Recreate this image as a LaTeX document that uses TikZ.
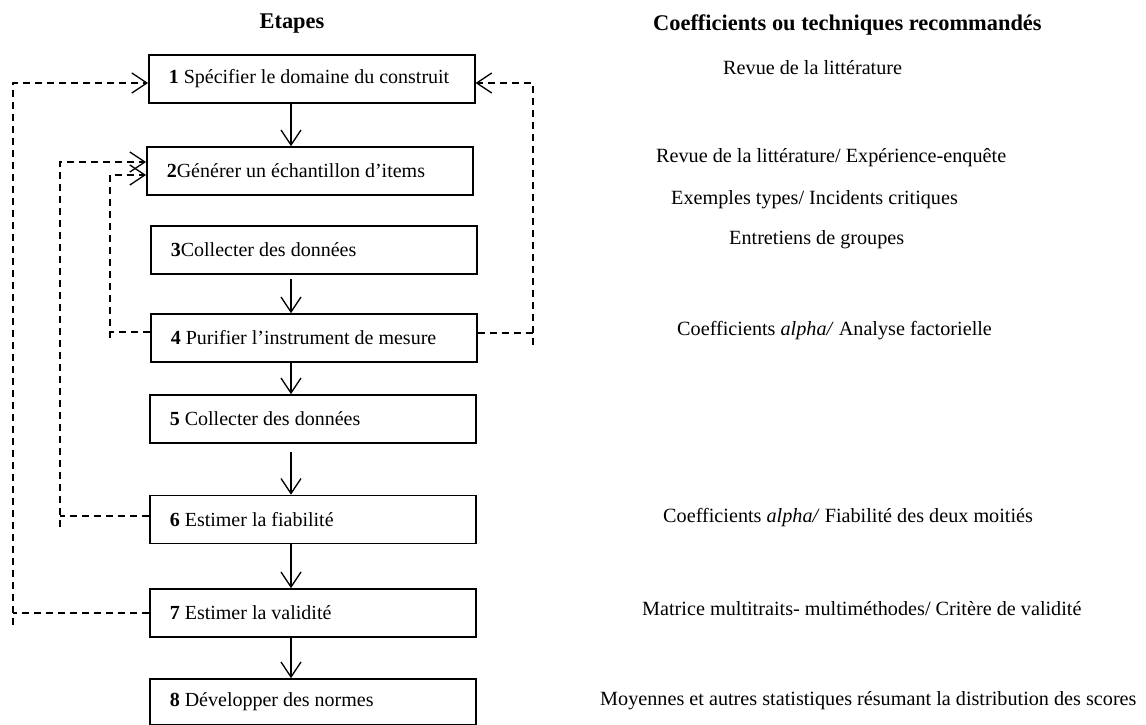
\documentclass[tikz,border=0pt]{standalone}
\usepackage{fontspec}
\setmainfont{Liberation Serif}
\usetikzlibrary{arrows.meta,calc}
\newcommand{\boxline}[1]{\makebox[286pt][l]{#1}}
\begin{document}
\begin{tikzpicture}[x=1pt,y=-1pt,
  stepbox/.style={draw, line width=1.6pt, minimum height=48pt, inner xsep=20pt, inner ysep=0pt, anchor=west, font=\fontsize{20}{24}\selectfont},
  txt/.style={anchor=west, inner sep=0pt, font=\fontsize{20.2}{24}\selectfont},
  head/.style={inner sep=0pt, font=\fontsize{22.4}{26}\selectfont\bfseries},
  arr/.style={line width=1.3pt, -{Straight Barb[length=15pt,width=20pt]}},
  fb/.style={line width=1.3pt, dash pattern=on 7pt off 5pt},
  fbarr/.style={fb, -{Straight Barb[length=15pt,width=20pt]}}]
\useasboundingbox (0,0) rectangle (1146,725);

% headers
\node[head] (h1) at (292,24) {Etapes};
\node[head, anchor=west] (h2) at (653,25) {Coefficients ou techniques recommandés};

% step boxes
\node[stepbox] (b1) at (148,79) {\boxline{\textbf{1} Spécifier le domaine du construit}};
\node[stepbox] (b2) at (146,171) {\boxline{\textbf{2}Générer un échantillon d’items}};
\node[stepbox] (b3) at (150,250) {\boxline{\textbf{3}Collecter des données}};
\node[stepbox] (b4) at (150,338) {\boxline{\textbf{4} Purifier l’instrument de mesure}};
\node[stepbox] (b5) at (149,419) {\boxline{\textbf{5} Collecter des données}};
\node[stepbox] (b6) at (149,519.5) {\boxline{\textbf{6} Estimer la fiabilité}};
\node[stepbox] (b7) at (149,613) {\boxline{\textbf{7} Estimer la validité}};
\node[stepbox, minimum height=46pt] (b8) at (149,702) {\boxline{\textbf{8} Développer des normes}};

% right column
\node[txt] (r1) at (723,68) {Revue de la littérature};
\node[txt] (r2a) at (656,158) {Revue de la littérature/ Expérience-enquête};
\node[txt] (r2b) at (671,200) {Exemples types/ Incidents critiques};
\node[txt] (r3) at (729,240) {Entretiens de groupes};
\node[txt] (r4) at (677,331) {Coefficients \textit{alpha/} Analyse factorielle};
\node[txt] (r6) at (663,518) {Coefficients \textit{alpha/} Fiabilité des deux moitiés};
\node[txt] (r7) at (642,609) {Matrice multitraits- multiméthodes/ Critère de validité};
\node[txt] (r8) at (600,701) {Moyennes et autres statistiques résumant la distribution des scores};

% solid arrows
\coordinate (ax) at (291,0);
\draw[arr] (b1.south -| ax) -- (b2.north -| ax);
\draw[arr] ($(b3.south -| ax)+(0,4)$) -- (b4.north -| ax);
\draw[arr] (b4.south -| ax) -- (b5.north -| ax);
\draw[arr] ($(b5.south -| ax)+(0,8)$) -- (b6.north -| ax);
\draw[arr] (b6.south -| ax) -- (b7.north -| ax);
\draw[arr] (b7.south -| ax) -- (b8.north -| ax);

% feedback loops
\coordinate (oc) at (13,613);
\coordinate (ot) at (13,83);
\draw[fb] (b7.west |- oc) -- (oc);
\draw[fbarr] ($(oc)+(0,12)$) -- (ot) -- (ot -| b1.west);

\coordinate (mc) at (60,516);
\coordinate (mt) at (60,162);
\draw[fb] (b6.west |- mc) -- (mc);
\draw[fbarr] ($(mc)+(0,11)$) -- (mt) -- (mt -| b2.west);

\coordinate (ic) at (110,332);
\coordinate (it) at (110,175);
\draw[fb] (b4.west |- ic) -- (ic);
\draw[fbarr] ($(ic)+(0,6)$) -- (it) -- (it -| b2.west);

\coordinate (rc) at (533,333);
\coordinate (rt) at (533,83);
\draw[fb] (b4.east |- rc) -- (rc);
\draw[fbarr] ($(rc)+(0,12)$) -- (rt) -- (rt -| b1.east);
\end{tikzpicture}
\end{document}
